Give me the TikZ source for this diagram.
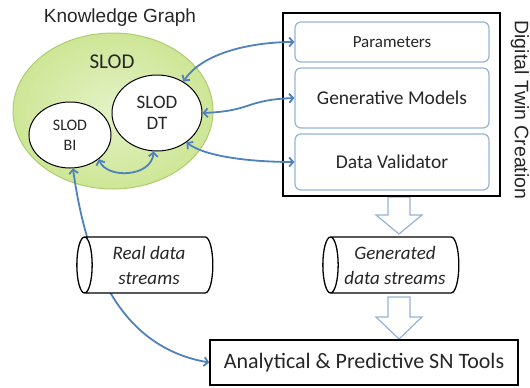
\documentclass[tikz,border=0pt]{standalone}
\usepackage{fontspec}
\setmainfont{Carlito}
\newfontfamily\arialfont{Liberation Sans}
\usetikzlibrary{shapes.geometric,arrows.meta}
\definecolor{linkblue}{RGB}{79,129,189}
\definecolor{boxblue}{RGB}{149,179,215}
\definecolor{kgedge}{RGB}{172,206,110}
\definecolor{kginner}{RGB}{228,242,198}
\definecolor{kgouter}{RGB}{206,230,150}
\definecolor{txt}{RGB}{38,38,38}

\begin{document}
\begin{tikzpicture}[x=1pt, y=-1pt,
    every node/.style={text=txt, inner sep=0pt},
    slodnode/.style={ellipse, draw=black, line width=1pt, fill=white, align=center},
    dtpart/.style={draw=boxblue, line width=1.2pt, rounded corners=6pt, minimum width=194pt},
    datastream/.style={cylinder, shape border rotate=180, aspect=0.4, draw=black, line width=1.3pt,
        fill=white, minimum width=56pt, minimum height=136pt, align=center,
        font=\fontsize{19}{25}\selectfont\itshape},
    hollowarrow/.style={draw=boxblue, fill=white, line width=1.2pt},
    link/.style={linkblue, line width=1.8pt,
        {Straight Barb[length=4pt,width=9pt]}-{Straight Barb[length=4pt,width=9pt]}}]
    \useasboundingbox (0,0) rectangle (530,388);

    % Knowledge graph
    \node[ellipse, draw=kgedge, line width=1pt, inner color=kginner, outer color=kgouter,
        minimum width=200pt, minimum height=156pt] (kg) at (113,111) {};
    \node[anchor=base, font=\arialfont\fontsize{19}{19}\selectfont] (kgtitle) at (120,22) {Knowledge Graph};
    \node[anchor=base, font=\fontsize{21}{21}\selectfont] (slod) at (112,68) {SLOD};
    \node[slodnode, minimum width=90pt, minimum height=76pt, font=\fontsize{19}{21}\selectfont] (dt) at (157,113) {SLOD\\DT};
    \node[slodnode, minimum width=82pt, minimum height=66pt, font=\fontsize{16}{20}\selectfont] (bi) at (70,135) {SLOD\\BI};

    % Hollow arrows
    \draw[hollowarrow] (388,197) -- (410,197) -- (410,215) -- (422,215) -- (399,234) -- (376,215) -- (388,215) -- cycle;
    \draw[hollowarrow] (388,297) -- (410,297) -- (410,317) -- (422,317) -- (399,339) -- (376,317) -- (388,317) -- cycle;

    % Digital twin creation
    \node[draw=black, line width=1.6pt, minimum width=217pt, minimum height=183pt] (dtbox) at (391.5,104.5) {};
    \node[dtpart, minimum height=40pt, font=\fontsize{17}{17}\selectfont] (params) at (392,42) {Parameters};
    \node[dtpart, minimum height=60pt, font=\fontsize{19.5}{19.5}\selectfont] (gen) at (392,98) {Generative Models};
    \node[dtpart, minimum height=56pt, font=\fontsize{19.5}{19.5}\selectfont] (valid) at (392,162) {Data Validator};
    \node[rotate=-90, font=\arialfont\fontsize{19.5}{19.5}\selectfont] (dtlabel) at (520,110) {Digital Twin Creation};

    % SN tools
    \node[draw=black, line width=1.6pt, minimum width=308pt, minimum height=45pt,
        font=\fontsize{22}{22}\selectfont] (tools) at (364,362.5) {Analytical \& Predictive SN Tools};

    % Links
    \draw[link] (bi.-85) .. controls +(13,92) and +(-92,-16) .. (tools.west);
    \draw[link] (dt.50) .. controls +(20,-30) and +(-40,0) .. (params.west);
    \draw[link] (dt.east) .. controls +(50,-2) and +(-50,2) .. (gen.west);
    \draw[link] (dt.-45) .. controls +(20,15) and +(-40,0) .. (valid.west);
    \draw[link] (bi.-40) .. controls +(8,20) and +(-2,26) .. (dt.-95);

    % Data streams
    \node[datastream] (real) at (149,265) {Real data\\streams};
    \node[datastream] (generated) at (395,265) {Generated\\data streams};
\end{tikzpicture}
\end{document}
